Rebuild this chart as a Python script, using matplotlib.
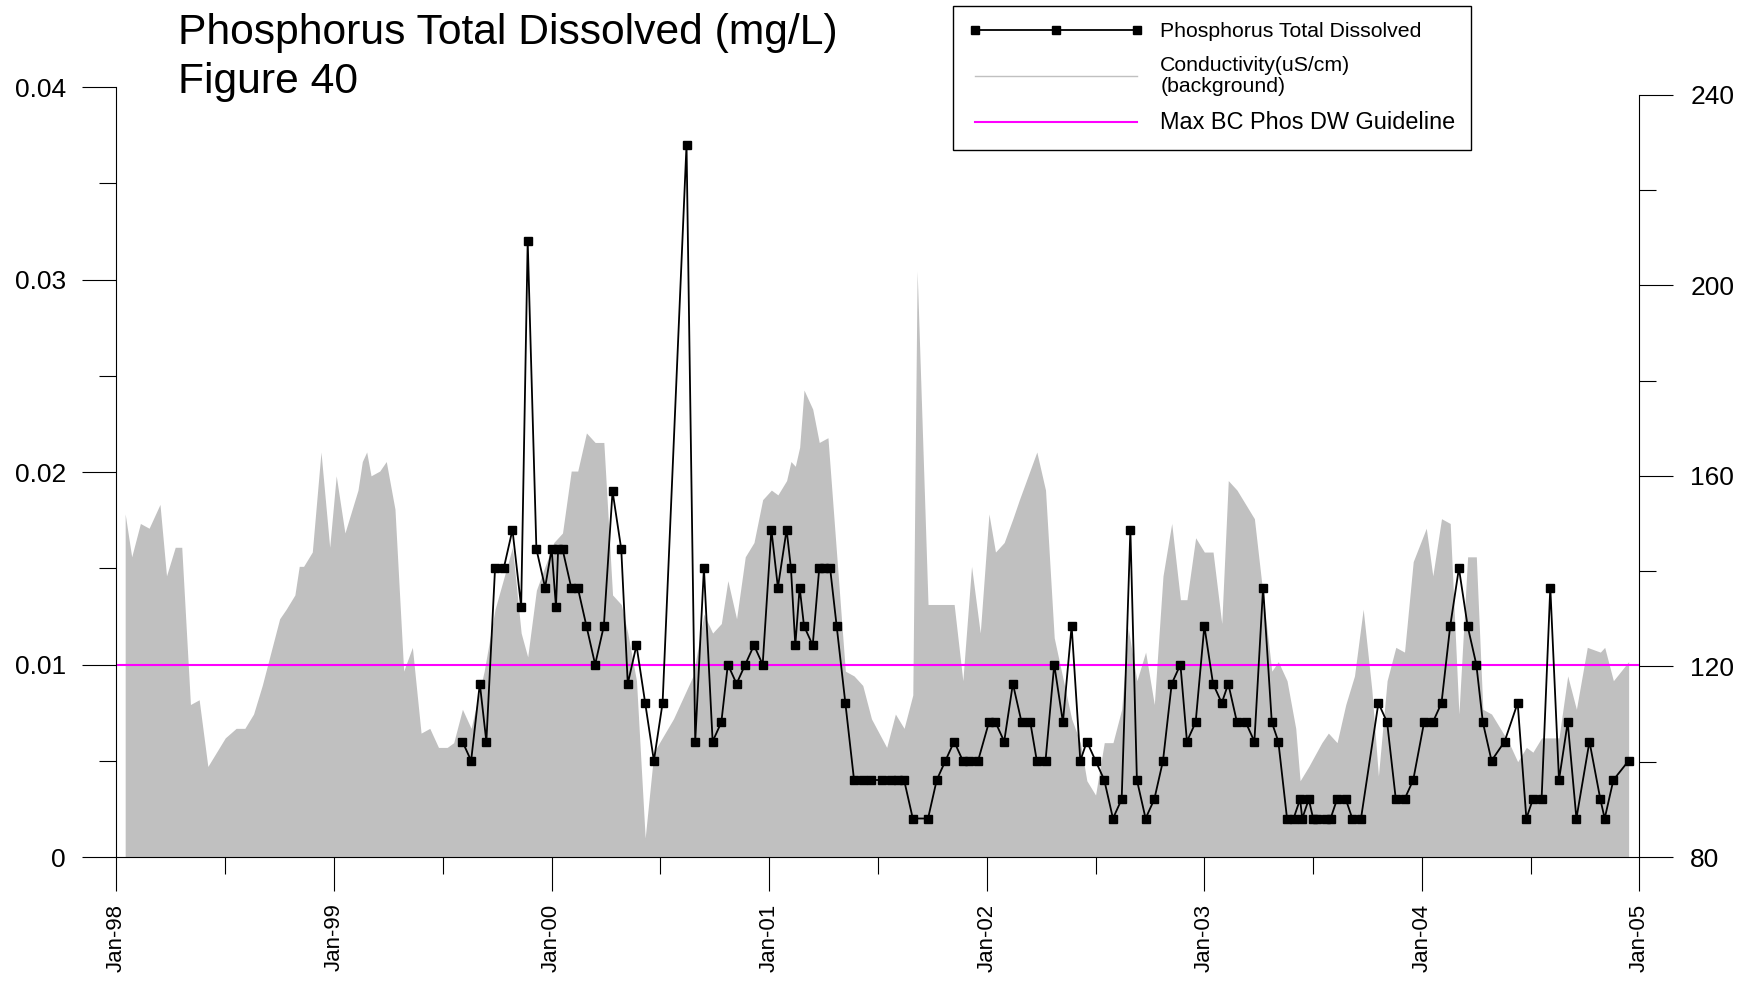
import matplotlib.pyplot as plt
import numpy as np
from matplotlib.lines import Line2D
from matplotlib.ticker import MultipleLocator, FuncFormatter

plt.rcParams['font.family'] = ['Liberation Sans', 'DejaVu Sans']

# phosphorus samples (decimal year, mg/L)
phos_years = [
    1999.59, 1999.63, 1999.67, 1999.70, 1999.74, 1999.78, 1999.82, 1999.86, 1999.89, 1999.93,
    1999.97, 2000.00, 2000.02, 2000.03, 2000.05, 2000.09, 2000.12, 2000.16, 2000.20, 2000.24,
    2000.28, 2000.32, 2000.35, 2000.39, 2000.43, 2000.47, 2000.51, 2000.62, 2000.66, 2000.70,
    2000.74, 2000.78, 2000.81, 2000.85, 2000.89, 2000.93, 2000.97, 2001.01, 2001.04, 2001.08,
    2001.10, 2001.12, 2001.14, 2001.16, 2001.20, 2001.23, 2001.25, 2001.28, 2001.31, 2001.35,
    2001.39, 2001.43, 2001.47, 2001.52, 2001.56, 2001.59, 2001.62, 2001.66, 2001.73, 2001.77,
    2001.81, 2001.85, 2001.89, 2001.92, 2001.96, 2002.01, 2002.04, 2002.08, 2002.12, 2002.16,
    2002.20, 2002.23, 2002.27, 2002.31, 2002.35, 2002.39, 2002.43, 2002.46, 2002.50, 2002.54,
    2002.58, 2002.62, 2002.66, 2002.69, 2002.73, 2002.77, 2002.81, 2002.85, 2002.89, 2002.92,
    2002.96, 2003.00, 2003.04, 2003.08, 2003.11, 2003.15, 2003.19, 2003.23, 2003.27, 2003.31,
    2003.34, 2003.38, 2003.41, 2003.44, 2003.45, 2003.48, 2003.50, 2003.52, 2003.56, 2003.58,
    2003.61, 2003.65, 2003.68, 2003.72, 2003.80, 2003.84, 2003.88, 2003.92, 2003.96, 2004.01,
    2004.05, 2004.09, 2004.13, 2004.17, 2004.21, 2004.25, 2004.28, 2004.32, 2004.38, 2004.44,
    2004.48, 2004.51, 2004.55, 2004.59, 2004.63, 2004.67, 2004.71, 2004.77, 2004.82, 2004.84,
    2004.88, 2004.95,
]
phos_vals = [
    0.006, 0.005, 0.009, 0.006, 0.015, 0.015, 0.017, 0.013, 0.032, 0.016,
    0.014, 0.016, 0.013, 0.016, 0.016, 0.014, 0.014, 0.012, 0.010, 0.012,
    0.019, 0.016, 0.009, 0.011, 0.008, 0.005, 0.008, 0.037, 0.006, 0.015,
    0.006, 0.007, 0.010, 0.009, 0.010, 0.011, 0.010, 0.017, 0.014, 0.017,
    0.015, 0.011, 0.014, 0.012, 0.011, 0.015, 0.015, 0.015, 0.012, 0.008,
    0.004, 0.004, 0.004, 0.004, 0.004, 0.004, 0.004, 0.002, 0.002, 0.004,
    0.005, 0.006, 0.005, 0.005, 0.005, 0.007, 0.007, 0.006, 0.009, 0.007,
    0.007, 0.005, 0.005, 0.010, 0.007, 0.012, 0.005, 0.006, 0.005, 0.004,
    0.002, 0.003, 0.017, 0.004, 0.002, 0.003, 0.005, 0.009, 0.010, 0.006,
    0.007, 0.012, 0.009, 0.008, 0.009, 0.007, 0.007, 0.006, 0.014, 0.007,
    0.006, 0.002, 0.002, 0.003, 0.002, 0.003, 0.002, 0.002, 0.002, 0.002,
    0.003, 0.003, 0.002, 0.002, 0.008, 0.007, 0.003, 0.003, 0.004, 0.007,
    0.007, 0.008, 0.012, 0.015, 0.012, 0.010, 0.007, 0.005, 0.006, 0.008,
    0.002, 0.003, 0.003, 0.014, 0.004, 0.007, 0.002, 0.006, 0.003, 0.002,
    0.004, 0.005,
]

# conductivity background (decimal year, uS/cm)
cond_years = [
    1998.04, 1998.07, 1998.11, 1998.15, 1998.20, 1998.23, 1998.27, 1998.30, 1998.34, 1998.38,
    1998.42, 1998.46, 1998.50, 1998.55, 1998.59, 1998.63, 1998.67, 1998.71, 1998.75, 1998.78,
    1998.82, 1998.84, 1998.86, 1998.90, 1998.94, 1998.98, 1999.01, 1999.05, 1999.11, 1999.13,
    1999.15, 1999.17, 1999.21, 1999.24, 1999.28, 1999.32, 1999.36, 1999.40, 1999.44, 1999.48,
    1999.52, 1999.55, 1999.59, 1999.63, 1999.69, 1999.74, 1999.82, 1999.86, 1999.89, 1999.93,
    1999.97, 2000.01, 2000.05, 2000.09, 2000.12, 2000.16, 2000.20, 2000.24, 2000.28, 2000.32,
    2000.35, 2000.39, 2000.43, 2000.47, 2000.56, 2000.65, 2000.70, 2000.74, 2000.78, 2000.81,
    2000.85, 2000.89, 2000.93, 2000.97, 2001.01, 2001.04, 2001.08, 2001.10, 2001.12, 2001.14,
    2001.16, 2001.20, 2001.23, 2001.27, 2001.35, 2001.39, 2001.43, 2001.47, 2001.54, 2001.58,
    2001.62, 2001.66, 2001.68, 2001.73, 2001.85, 2001.89, 2001.93, 2001.97, 2002.01, 2002.04,
    2002.08, 2002.12, 2002.15, 2002.23, 2002.27, 2002.31, 2002.39, 2002.43, 2002.46, 2002.50,
    2002.54, 2002.58, 2002.62, 2002.65, 2002.69, 2002.73, 2002.77, 2002.81, 2002.85, 2002.89,
    2002.92, 2002.96, 2003.00, 2003.04, 2003.08, 2003.11, 2003.15, 2003.23, 2003.31, 2003.34,
    2003.38, 2003.42, 2003.44, 2003.48, 2003.54, 2003.57, 2003.61, 2003.65, 2003.69, 2003.73,
    2003.77, 2003.80, 2003.84, 2003.88, 2003.92, 2003.96, 2004.02, 2004.05, 2004.09, 2004.13,
    2004.17, 2004.21, 2004.25, 2004.28, 2004.32, 2004.36, 2004.40, 2004.44, 2004.48, 2004.51,
    2004.55, 2004.59, 2004.63, 2004.67, 2004.71, 2004.76, 2004.82, 2004.84, 2004.88, 2004.95,
]
cond_vals = [
    152, 143, 150, 149, 154, 139, 145, 145, 112, 113,
    99, 102, 105, 107, 107, 110, 116, 123, 130, 132,
    135, 141, 141, 144, 165, 145, 160, 148, 157, 163,
    165, 160, 161, 163, 153, 119, 124, 106, 107, 103,
    103, 104, 111, 107, 119, 132, 145, 127, 122, 136,
    141, 146, 148, 161, 161, 169, 167, 167, 135, 133,
    127, 117, 84, 102, 109, 118, 131, 127, 129, 138,
    130, 143, 146, 155, 157, 156, 159, 163, 162, 166,
    178, 174, 167, 168, 119, 118, 116, 109, 103, 110,
    107, 114, 203, 133, 133, 117, 141, 127, 152, 144,
    146, 151, 155, 165, 157, 126, 109, 104, 96, 93,
    104, 104, 111, 128, 117, 123, 112, 139, 150, 134,
    134, 147, 144, 144, 129, 159, 157, 151, 119, 121,
    117, 107, 96, 99, 104, 106, 104, 112, 118, 132,
    115, 97, 117, 124, 123, 142, 149, 139, 151, 150,
    110, 143, 143, 111, 110, 107, 104, 100, 103, 102,
    105, 105, 105, 118, 111, 124, 123, 124, 117, 121,
]

guideline = 0.01
year_ticks = [1998, 1999, 2000, 2001, 2002, 2003, 2004, 2005]
year_labels = ['Jan-98', 'Jan-99', 'Jan-00', 'Jan-01', 'Jan-02', 'Jan-03', 'Jan-04', 'Jan-05']

fig = plt.figure(figsize=(17.41, 9.81), dpi=100)
ax = fig.add_axes([0.0669, 0.1264, 0.8748, 0.7849])
ax2 = ax.twinx()

ax2.fill_between(cond_years, cond_vals, 80, color='#c0c0c0', lw=0)
ax.set_zorder(ax2.get_zorder() + 1)
ax.patch.set_visible(False)

ax.axhline(guideline, color='#ff00ff', lw=1.5)
ax.plot(phos_years, phos_vals, color='black', lw=1.3, marker='s', ms=6)

ax.set_xlim(1998, 2005)
ax.set_ylim(0, 0.04)
ax2.set_ylim(80, 241.6)

ax.set_xticks(year_ticks)
ax.set_xticklabels(year_labels, rotation=90)
ax.xaxis.set_minor_locator(MultipleLocator(0.5))
ax.yaxis.set_major_locator(MultipleLocator(0.01))
ax.yaxis.set_minor_locator(MultipleLocator(0.005))
ax.yaxis.set_major_formatter(FuncFormatter(lambda v, p: '0' if abs(v) < 1e-9 else f'{v:.2f}'))
ax2.yaxis.set_major_locator(MultipleLocator(40))
ax2.yaxis.set_minor_locator(MultipleLocator(20))

ax.tick_params(axis='x', which='major', length=24.5, width=0.8, pad=9, labelsize=16)
ax.tick_params(axis='x', which='minor', length=12.2, width=0.8)
ax.tick_params(axis='y', which='major', length=24.5, width=0.8, pad=12, labelsize=19)
ax.tick_params(axis='y', which='minor', length=12.2, width=0.8)
ax2.tick_params(axis='y', which='major', length=24.5, width=0.8, pad=12, labelsize=19)
ax2.tick_params(axis='y', which='minor', length=12.2, width=0.8)

for s in ['top', 'right']:
    ax.spines[s].set_visible(False)
for s in ['top', 'left', 'bottom']:
    ax2.spines[s].set_visible(False)
ax2.spines['right'].set_bounds(80, 240)

fig.text(0.1022, 0.9551, 'Phosphorus Total Dissolved (mg/L)', fontsize=30.7, va='baseline')
fig.text(0.1022, 0.9048, 'Figure 40', fontsize=30.7, va='baseline')

handles = [
    Line2D([], [], color='black', lw=1.3, marker='s', ms=6),
    Line2D([], [], color='#c0c0c0', lw=1),
    Line2D([], [], color='#ff00ff', lw=1.5),
]
labels = ['Phosphorus Total Dissolved', 'Conductivity(uS/cm)\n(background)', 'Max BC Phos DW Guideline']
leg = fig.legend(handles, labels, loc='upper left', bbox_to_anchor=(953 / 1741, 1 - 6 / 981),
                 numpoints=3, handlelength=8.2, fontsize=15.3, fancybox=False, edgecolor='black',
                 framealpha=1, borderpad=0.75, labelspacing=0.7, handletextpad=0.8, borderaxespad=0)
leg.get_frame().set_linewidth(1)
leg.get_texts()[1].set_linespacing(1.17)
leg.get_texts()[2].set_fontsize(16.9)

fig.savefig('out.png', dpi=100)
